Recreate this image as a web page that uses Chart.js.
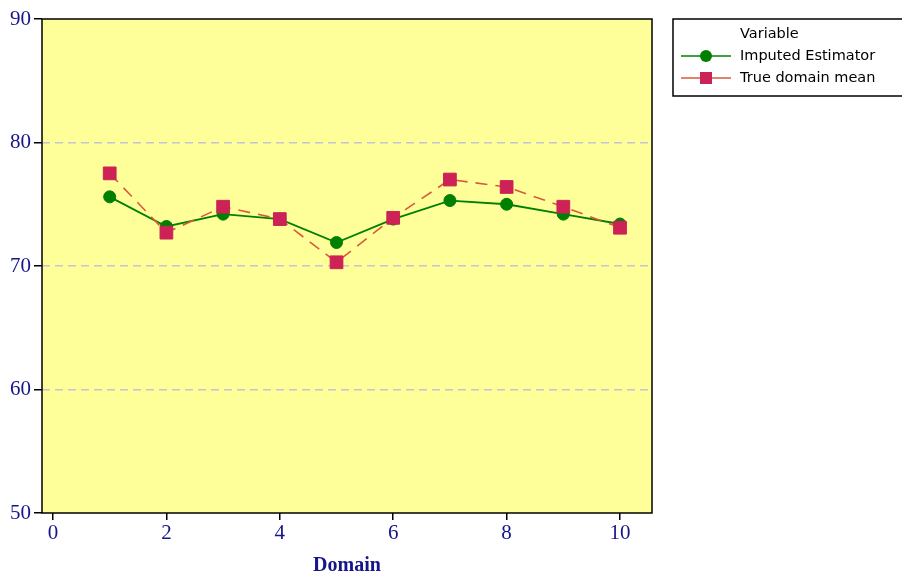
<!DOCTYPE html>
<html>
<head>
<meta charset="utf-8">
<script src="https://cdn.jsdelivr.net/npm/chart.js@4/dist/chart.umd.min.js"></script>
<style>
  html, body { margin: 0; padding: 0; background: #fff; }
  #wrap { width: 902px; height: 578px; position: relative; }
</style>
</head>
<body>
<div id="wrap"><canvas id="chart"></canvas></div>
<script>
// DATA
const domains = [1, 2, 3, 4, 5, 6, 7, 8, 9, 10];
const imputedEstimator = [75.6, 73.2, 74.2, 73.8, 71.9, 73.8, 75.3, 75.0, 74.2, 73.4];
const trueDomainMean = [77.5, 72.7, 74.8, 73.8, 70.3, 73.9, 77.0, 76.4, 74.8, 73.1];
const xTicks = [0, 2, 4, 6, 8, 10];
const yTicks = [50, 60, 70, 80, 90];
const legendTitle = "Variable";

const NAVY = "#16168a";
const GREEN = "#008000";
const RED = "#cc2255";
const RED_LINE = "#d95a3c";

const toXY = (vals) => vals.map((v, i) => ({ x: domains[i], y: v }));

// yellow plot area + frame + legend box
const plotDecor = {
  id: "plotDecor",
  beforeDraw(chart) {
    const { ctx, chartArea: a } = chart;
    ctx.save();
    ctx.fillStyle = "#fff";
    ctx.fillRect(0, 0, chart.width, chart.height);
    ctx.fillStyle = "#ffff99";
    ctx.fillRect(a.left, a.top, a.right - a.left, a.bottom - a.top);
    ctx.restore();
  },
  afterDraw(chart) {
    const { ctx, chartArea: a } = chart;
    ctx.save();
    ctx.strokeStyle = "#000";
    ctx.lineWidth = 1.5;
    ctx.strokeRect(a.left, a.top, a.right - a.left, a.bottom - a.top);

    // legend
    const lx = 673, ly = 19, lw = 240, lh = 77;
    ctx.strokeRect(lx, ly, lw, lh);
    ctx.fillStyle = "#000";
    ctx.font = '14.5px "DejaVu Sans"';
    ctx.textBaseline = "middle";
    ctx.fillText(legendTitle, 740, 34);
    const rows = [chart.data.datasets[1], chart.data.datasets[0]];
    rows.forEach((ds, i) => {
      const y = 56 + i * 22;
      ctx.strokeStyle = ds.borderColor;
      ctx.lineWidth = 1.5;
      ctx.setLineDash([]);
      ctx.beginPath();
      ctx.moveTo(681, y);
      ctx.lineTo(731, y);
      ctx.stroke();
      ctx.fillStyle = ds.pointBackgroundColor;
      if (ds.pointStyle === "rect") {
        ctx.fillRect(700, y - 6, 12, 12);
      } else {
        ctx.beginPath();
        ctx.arc(706, y, 6, 0, Math.PI * 2);
        ctx.fill();
      }
      ctx.fillStyle = "#000";
      ctx.fillText(ds.label, 740, y);
    });
    ctx.restore();
  }
};

new Chart(document.getElementById("chart"), {
  type: "line",
  data: {
    datasets: [
      {
        label: "True domain mean",
        data: toXY(trueDomainMean),
        borderColor: RED_LINE,
        borderWidth: 1.6,
        borderDash: [12, 8],
        pointStyle: "rect",
        pointRadius: 9,
        pointBackgroundColor: RED,
        pointBorderColor: RED,
        pointBorderWidth: 1,
        order: 1
      },
      {
        label: "Imputed Estimator",
        data: toXY(imputedEstimator),
        borderColor: GREEN,
        borderWidth: 1.8,
        pointStyle: "circle",
        pointRadius: 6,
        pointBackgroundColor: GREEN,
        pointBorderColor: GREEN,
        pointBorderWidth: 1,
        order: 2
      }
    ]
  },
  options: {
    responsive: true,
    maintainAspectRatio: false,
    animation: false,
    layout: { padding: { top: 19, right: 250, left: 0, bottom: 0 } },
    plugins: {
      legend: { display: false },
      tooltip: { enabled: false }
    },
    scales: {
      x: {
        type: "linear",
        min: -0.194,
        max: 10.564,
        afterFit(scale) { scale.height = 65; },
        afterBuildTicks(scale) { scale.ticks = xTicks.map(v => ({ value: v })); },
        ticks: {
          color: NAVY,
          font: { family: '"Liberation Serif"', size: 21 },
          padding: 1
        },
        grid: { drawOnChartArea: false, tickLength: 7, color: "#000", tickColor: "#000", lineWidth: 1.5 },
        border: { display: false },
        title: {
          display: true,
          text: "Domain",
          color: NAVY,
          font: { family: '"Liberation Serif"', size: 20, weight: "bold" },
          padding: { top: 0, bottom: 0 }
        }
      },
      y: {
        min: 50,
        max: 90,
        afterFit(scale) { scale.width = 42; },
        afterBuildTicks(scale) { scale.ticks = yTicks.map(v => ({ value: v })); },
        ticks: {
          color: NAVY,
          font: { family: '"Liberation Serif"', size: 21 },
          padding: 3
        },
        grid: {
          color: (c) => (c.tick && (c.tick.value === 50 || c.tick.value === 90)) ? "rgba(0,0,0,0)" : "#c4c4d4",
          lineWidth: 1.5,
          tickColor: "#000",
          tickLength: 8,
          tickBorderDash: []
        },
        border: { display: false, dash: [8, 5] }
      }
    }
  },
  plugins: [plotDecor]
});
</script>
</body>
</html>
